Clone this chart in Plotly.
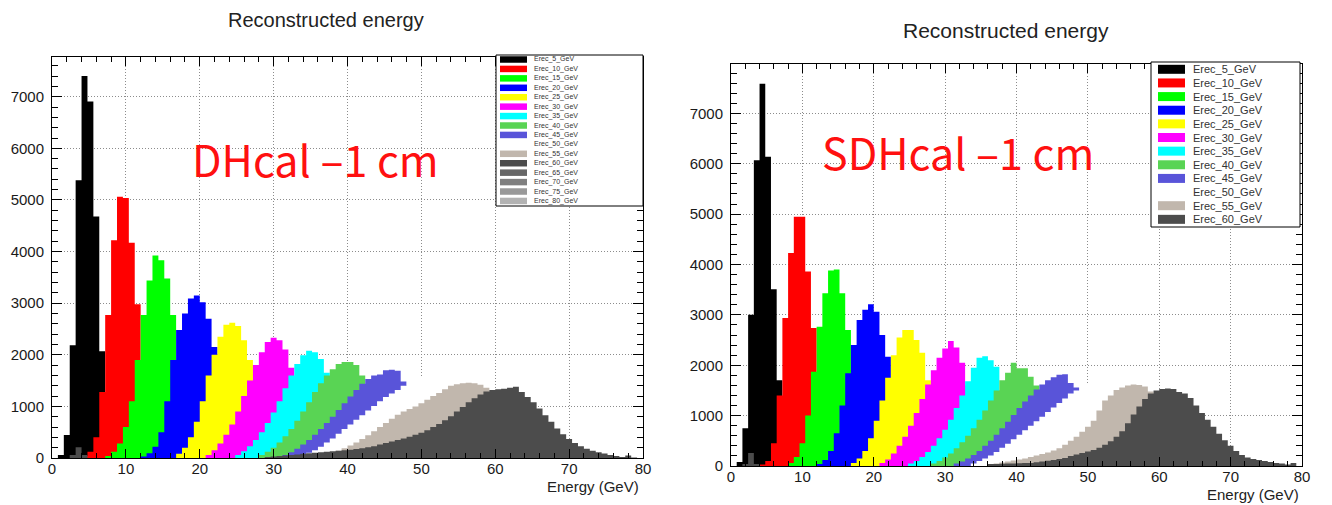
import plotly.graph_objects as go

# page is 1332x505; the html body has an 8px margin, so the figure is drawn 8px in
OFF = 8
W, H = 1332 - OFF, 505 - OFF
BIN_WIDTH = 0.8  # GeV per bin (100 bins over 0-80 GeV)

# ---------------- data: DHcal (left panel) ----------------
DH_ENERGIES = [5, 10, 15, 20, 25, 30, 35, 40, 45, 50, 55, 60, 65, 70, 75, 80]

DH_05_LO = 0.8
DH_05 = [60, 445, 2185, 5380, 7400, 6910, 4680, 2070, 700, 200, 60, 20]
DH_10_LO = 4.0
DH_10 = [40, 120, 400, 1280, 2770, 4220, 5060, 5040, 4170, 2980, 1700, 800, 300, 100, 30]
DH_15_LO = 7.2
DH_15 = [40, 120, 280, 600, 1100, 1900, 2770, 3440, 3925, 3830, 3480, 2770, 1900, 1100, 600, 250, 100, 40]
DH_20_LO = 12.0
DH_20 = [30, 90, 220, 500, 1100, 1900, 2480, 2800, 3090, 3150, 3020, 2700, 2150, 1500, 900, 450, 200, 80, 30]
DH_25_LO = 16.8
DH_25 = [80, 200, 400, 700, 1100, 1600, 2000, 2350, 2580, 2620, 2560, 2280, 1900, 1400, 900, 500, 250, 100, 40]
DH_30_LO = 20.8
DH_30 = [60, 150, 280, 450, 650, 900, 1200, 1500, 1800, 2050, 2250, 2330, 2280, 2100, 1750, 1300, 850, 480, 230, 100, 40]
DH_35_LO = 24.8
DH_35 = [60, 130, 230, 350, 500, 680, 880, 1100, 1350, 1600, 1820, 1990, 2080, 2050, 1920, 1650, 1250, 850, 500, 250, 110, 40]
DH_40_LO = 28.0
DH_40 = [60, 120, 200, 300, 420, 560, 720, 900, 1080, 1280, 1450, 1600, 1720, 1820, 1860, 1860, 1800, 1600, 1250, 850, 500, 250, 100, 40]
DH_45_LO = 31.2
DH_45 = [60, 110, 180, 260, 350, 450, 560, 680, 800, 930, 1060, 1190, 1320, 1440, 1530, 1600, 1620, 1700, 1710, 1690, 1480, 1400, 1250, 1050, 830, 600, 400, 240, 120, 50]
DH_50_LO = 33.6
DH_50 = [60, 100, 150, 220, 300, 380, 470, 560, 650, 740, 830, 920, 1010, 1100, 1180, 1250, 1320, 1400, 1500, 1540, 1560, 1540, 1480, 1380, 1220, 1000, 750, 500, 300, 160, 80, 30]
DH_55_LO = 36.0
DH_55 = [40, 70, 100, 140, 190, 240, 300, 370, 440, 520, 600, 680, 760, 840, 900, 950, 1000, 1060, 1130, 1200, 1260, 1330, 1400, 1430, 1450, 1460, 1450, 1420, 1360, 1250, 1100, 900, 680, 480, 300, 170, 80, 30]
DH_60_BUMP_LO = 2.4
DH_60_BUMP = [60, 210, 60]
DH_60_LO = 28.8
DH_60 = [20, 30, 40, 50, 60, 70, 80, 90, 100, 110, 120, 130, 140, 150, 160, 175, 190, 210, 230, 260, 290, 320, 350, 380, 410, 450, 490, 540, 600, 660, 730, 810, 900, 990, 1080, 1160, 1230, 1290, 1320, 1330, 1340, 1360, 1380, 1280, 1180, 1080, 960, 830, 700, 570, 460, 370, 290, 230, 180, 140, 110, 85, 60, 40, 20, 50, 10]

# ---------------- data: SDHcal (right panel) ----------------
SD_ENERGIES = [5, 10, 15, 20, 25, 30, 35, 40, 45, 50, 55, 60]

SD_05_LO = 0.8
SD_05 = [80, 750, 3000, 6070, 7590, 6140, 3510, 1700, 600, 200, 60]
SD_10_LO = 4.0
SD_10 = [30, 100, 450, 1400, 2940, 4230, 4950, 4950, 3860, 2740, 1700, 900, 400, 150, 50]
SD_15_LO = 8.0
SD_15 = [60, 180, 450, 1000, 1870, 2765, 3430, 3880, 3900, 3430, 2700, 1900, 1100, 550, 250, 100, 40]
SD_20_LO = 12.0
SD_20 = [40, 120, 300, 650, 1200, 1840, 2400, 2900, 3100, 3210, 3060, 2600, 2170, 1500, 900, 450, 200, 80]
SD_25_LO = 16.8
SD_25 = [60, 150, 300, 550, 900, 1300, 1750, 2200, 2550, 2700, 2700, 2500, 2250, 1700, 1150, 700, 380, 180, 70]
SD_30_LO = 20.8
SD_30 = [60, 130, 250, 400, 580, 800, 1050, 1330, 1620, 1900, 2150, 2330, 2480, 2350, 2050, 1600, 1100, 650, 330, 150, 60]
SD_35_LO = 24.8
SD_35 = [50, 100, 180, 280, 400, 550, 720, 920, 1150, 1400, 1680, 1950, 2150, 2180, 2100, 1970, 1500, 1050, 650, 350, 160, 60]
SD_40_LO = 28.0
SD_40 = [50, 100, 170, 250, 350, 470, 600, 750, 920, 1100, 1300, 1500, 1700, 1850, 2050, 1940, 1940, 1770, 1600, 1150, 650, 350, 150, 60]
SD_45_LO = 31.2
SD_45 = [50, 90, 150, 220, 300, 400, 500, 620, 750, 880, 1010, 1150, 1280, 1400, 1520, 1620, 1700, 1760, 1810, 1820, 1650, 1560, 1350, 1100, 850, 600, 380, 220, 110, 40]
SD_50_LO = 33.6
SD_50 = [50, 100, 150, 210, 280, 360, 440, 530, 620, 710, 800, 890, 980, 1070, 1160, 1250, 1340, 1440, 1500, 1600, 1640, 1650, 1620, 1540, 1400, 1200, 950, 700, 450, 250, 120, 50]
SD_55_LO = 36.0
SD_55 = [30, 50, 70, 90, 110, 130, 150, 180, 210, 240, 270, 310, 350, 420, 500, 580, 680, 780, 900, 1100, 1300, 1400, 1510, 1560, 1600, 1620, 1610, 1580, 1480, 1300, 1050, 800, 550, 350, 200, 100, 40]
SD_60_BUMP_LO = 1.6
SD_60_BUMP = [40, 260, 40]
SD_60_LO = 36.0
SD_60 = [40, 42, 45, 50, 52, 55, 58, 60, 75, 90, 105, 120, 140, 160, 200, 230, 260, 290, 320, 360, 420, 490, 580, 690, 850, 1020, 1180, 1330, 1440, 1500, 1530, 1540, 1530, 1470, 1440, 1350, 1200, 1050, 920, 780, 640, 510, 400, 300, 220, 170, 140, 120, 100, 80, 60, 50, 30, 60]

# ---------------- styles ----------------
COLORS = {5: '#000000', 10: '#ff0000', 15: '#00ff00', 20: '#0000ff', 25: '#ffff00',
          30: '#ff00ff', 35: '#00ffff', 40: '#59d454', 45: '#5954d9', 50: '#ffffff',
          55: '#c1b7ad', 60: '#4c4c4c', 65: '#666666', 70: '#7f7f7f', 75: '#999999',
          80: '#b2b2b2'}

DH_HISTS = [
    (5, [(DH_05_LO, DH_05)]), (10, [(DH_10_LO, DH_10)]), (15, [(DH_15_LO, DH_15)]),
    (20, [(DH_20_LO, DH_20)]), (25, [(DH_25_LO, DH_25)]), (30, [(DH_30_LO, DH_30)]),
    (35, [(DH_35_LO, DH_35)]), (40, [(DH_40_LO, DH_40)]), (45, [(DH_45_LO, DH_45)]),
    (50, [(DH_50_LO, DH_50)]), (55, [(DH_55_LO, DH_55)]),
    (60, [(DH_60_BUMP_LO, DH_60_BUMP), (DH_60_LO, DH_60)]),
]
SD_HISTS = [
    (5, [(SD_05_LO, SD_05)]), (10, [(SD_10_LO, SD_10)]), (15, [(SD_15_LO, SD_15)]),
    (20, [(SD_20_LO, SD_20)]), (25, [(SD_25_LO, SD_25)]), (30, [(SD_30_LO, SD_30)]),
    (35, [(SD_35_LO, SD_35)]), (40, [(SD_40_LO, SD_40)]), (45, [(SD_45_LO, SD_45)]),
    (50, [(SD_50_LO, SD_50)]), (55, [(SD_55_LO, SD_55)]),
    (60, [(SD_60_BUMP_LO, SD_60_BUMP), (SD_60_LO, SD_60)]),
]


def step_xy(segments):
    bins = {}
    for lo, vals in segments:
        i0 = int(round(lo / BIN_WIDTH))
        for k, v in enumerate(vals):
            bins[i0 + k] = v
    xs, ys = [], []
    prev = None
    for i in sorted(bins):
        if prev is not None and i != prev + 1:
            xs.append(round((prev + 1) * BIN_WIDTH, 4)); ys.append(0)
        xs.append(round(i * BIN_WIDTH, 4)); ys.append(bins[i])
        prev = i
    xs.append(round((prev + 1) * BIN_WIDTH, 4)); ys.append(0)
    return xs, ys


def px(x):
    """page pixel x -> paper fraction"""
    return (x - OFF) / W


def py(y):
    """page pixel y -> paper fraction"""
    return 1 - (y - OFF) / H


fig = go.Figure()
for hists, xa, ya in [(DH_HISTS, 'x', 'y'), (SD_HISTS, 'x2', 'y2')]:
    for e, segs in hists:
        xs, ys = step_xy(segs)
        fig.add_trace(go.Scatter(
            x=xs, y=ys, mode='lines', line=dict(shape='hv', width=0, color=COLORS[e]),
            fill='tozeroy', fillcolor=COLORS[e], xaxis=xa, yaxis=ya,
            showlegend=False, hoverinfo='skip', name=f'Erec_{e}_GeV'))

TICKFONT = dict(family='Liberation Sans, Arial, sans-serif', size=15, color='#1a1a1a')
GRID = '#8c8c8c'
GRID_DASH = '1px,2px'


def xaxis_cfg(dom):
    return dict(domain=dom, range=[0, 80], tick0=0, dtick=10, ticks='inside', ticklen=9,
                tickwidth=1, tickcolor='black', showline=True, linecolor='black', linewidth=1,
                mirror='ticks', showgrid=True, gridcolor=GRID, griddash=GRID_DASH, gridwidth=1,
                zeroline=False, tickfont=TICKFONT, fixedrange=True, automargin=False,
                ticklabelstandoff=-3,
                minor=dict(dtick=2, tick0=0, ticks='inside', ticklen=5, tickcolor='black',
                           tickwidth=1, showgrid=False))


def yaxis_cfg(dom, ymax, anchor):
    return dict(domain=dom, range=[0, ymax], tick0=0, dtick=1000, ticks='inside', ticklen=10,
                tickwidth=1, tickcolor='black', showline=True, linecolor='black', linewidth=1,
                mirror='ticks', showgrid=True, gridcolor=GRID, griddash=GRID_DASH, gridwidth=1,
                zeroline=False, tickfont=TICKFONT, anchor=anchor, ticklabelstandoff=4,
                fixedrange=True, automargin=False,
                minor=dict(dtick=200, tick0=0, ticks='inside', ticklen=6, tickcolor='black',
                           tickwidth=1, showgrid=False))


L_FRAME = (52, 643, 57, 458)     # left, right, top, bottom (page px)
R_FRAME = (731, 1302, 64, 466)

fig.update_layout(
    width=W, height=H, autosize=False, margin=dict(l=0, r=0, t=0, b=0, pad=0),
    paper_bgcolor='white', plot_bgcolor='white', showlegend=False,
    xaxis=xaxis_cfg([px(L_FRAME[0]), px(L_FRAME[1])]) | dict(anchor='y'),
    yaxis=yaxis_cfg([py(L_FRAME[3]), py(L_FRAME[2])], 7770, 'x'),
    xaxis2=xaxis_cfg([px(R_FRAME[0]), px(R_FRAME[1])]) | dict(anchor='y2'),
    yaxis2=yaxis_cfg([py(R_FRAME[3]), py(R_FRAME[2])], 7980, 'x2'),
)

shapes = []
annotations = []

# titles
annotations.append(dict(text='Reconstructed energy', x=px(326), y=py(20), xref='paper', yref='paper',
                        showarrow=False, xanchor='center', yanchor='middle',
                        font=dict(family='Liberation Sans, Arial', size=20, color='#222')))
annotations.append(dict(text='Reconstructed energy', x=px(1006), y=py(31), xref='paper', yref='paper',
                        showarrow=False, xanchor='center', yanchor='middle',
                        font=dict(family='Liberation Sans, Arial', size=21, color='#222')))
# axis titles
annotations.append(dict(text='Energy (GeV)', x=px(641), y=py(486), xref='paper', yref='paper',
                        showarrow=False, xanchor='right', yanchor='middle',
                        font=dict(family='Liberation Sans, Arial', size=15, color='#222')))
annotations.append(dict(text='Energy (GeV)', x=px(1301), y=py(494), xref='paper', yref='paper',
                        showarrow=False, xanchor='right', yanchor='middle',
                        font=dict(family='Liberation Sans, Arial', size=15, color='#222')))
# red labels
annotations.append(dict(text='DHcal –1 cm', x=px(315), y=py(158), xref='paper', yref='paper',
                        showarrow=False, xanchor='center', yanchor='middle',
                        font=dict(family='Noto Sans CJK SC, Noto Sans', size=43, color='#ff1010')))
annotations.append(dict(text='SDHcal –1 cm', x=px(958), y=py(151), xref='paper', yref='paper',
                        showarrow=False, xanchor='center', yanchor='middle',
                        font=dict(family='Noto Sans CJK SC, Noto Sans', size=43, color='#ff1010')))


def add_legend(energies, box, first_c, step, rect_x, rect_h, text_x, fsize):
    x0, x1, y0, y1 = box
    shapes.append(dict(type='rect', xref='paper', yref='paper', x0=px(x0), x1=px(x1),
                       y0=py(y1), y1=py(y0), fillcolor='white',
                       line=dict(color='black', width=1), layer='above'))
    for k, e in enumerate(energies):
        c = first_c + k * step
        shapes.append(dict(type='rect', xref='paper', yref='paper', x0=px(rect_x[0]),
                           x1=px(rect_x[1]), y0=py(c + rect_h / 2), y1=py(c - rect_h / 2),
                           fillcolor=COLORS[e], line=dict(width=0), layer='above'))
        annotations.append(dict(text=f'Erec_{e}_GeV', x=px(text_x), y=py(c), xref='paper',
                                yref='paper', showarrow=False, xanchor='left', yanchor='middle',
                                font=dict(family='Liberation Sans, Arial', size=fsize, color='#333')))


add_legend(DH_ENERGIES, (496, 643, 55, 206), 59.5, 9.43, (500, 527), 6.5, 532, 7)
add_legend(SD_ENERGIES, (1151, 1300, 62, 227), 69.3, 13.64, (1158, 1185), 9, 1191, 11)

fig.update_layout(shapes=shapes, annotations=annotations)
fig.write_html('out.html')
